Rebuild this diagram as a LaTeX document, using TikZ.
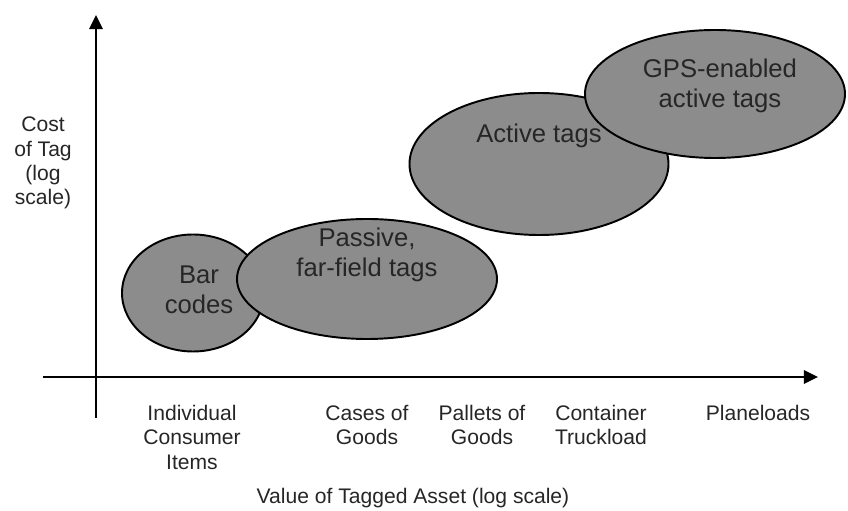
\documentclass[tikz,border=0pt]{standalone}
\usepackage{fontspec}
\setmainfont{Liberation Sans}
\usetikzlibrary{arrows.meta,shapes.geometric}

\begin{document}
\begin{tikzpicture}[>={Triangle[length=8pt,width=7.5pt]},line join=round,
	axis/.style={line width=1.4pt},
	tagblob/.style={ellipse,draw,line width=1.1pt,fill=black!45,inner sep=0pt},
	blobtext/.style={font=\fontsize{14.6}{17}\selectfont,align=center,text=black!85},
	axistext/.style={font=\fontsize{12}{13.8}\selectfont,align=center,text=black!85,inner sep=0pt}]
	\useasboundingbox (0,0) rectangle (16.96,10.22);
	\coordinate (xs) at (0.86,2.68);
	\coordinate (xe) at (16.36,2.68);
	\coordinate (ys) at (1.92,1.86);
	\coordinate (ye) at (1.92,9.92);
	\draw[axis,->] (xs)--(xe);
	\draw[axis,->] (ys)--(ye);
	% tag ellipses, back to front
	\node[tagblob,minimum width=2.84cm,minimum height=2.34cm] (bar) at (3.86,4.36) {};
	\node[tagblob,minimum width=5.18cm,minimum height=2.84cm] (active) at (10.78,6.94) {};
	\node[tagblob,minimum width=5.20cm,minimum height=2.40cm] (passive) at (7.34,4.64) {};
	\node[tagblob,minimum width=5.20cm,minimum height=2.56cm] (gps) at (14.30,8.34) {};
	\node[blobtext] (bartext) at ([shift={(0.12,0.06)}]bar.center) {Bar\\codes};
	\node[blobtext] (passivetext) at ([shift={(0,0.48)}]passive.center) {Passive,\\far-field tags};
	\node[blobtext] (activetext) at ([shift={(0,0.56)}]active.center) {Active tags};
	\node[blobtext] (gpstext) at ([shift={(0.10,0.16)}]gps.center) {GPS-enabled\\active tags};
	% axis labels
	\node[axistext] (ylab) at (0.86,6.96) {Cost\\of Tag\\(log\\scale)};
	\foreach \x/\t [count=\i] in {3.84/{Individual\\Consumer\\Items},7.34/{Cases of\\Goods},
		9.64/{Pallets of\\Goods},12.02/{Container\\Truckload},15.16/{Planeloads}}
	\node[axistext,anchor=north] (xcat\i) at (\x,2.12) {\t};
	\node[axistext,anchor=base] (xlab) at (8.26,0.14) {Value of Tagged Asset (log scale)};
\end{tikzpicture}
\end{document}
